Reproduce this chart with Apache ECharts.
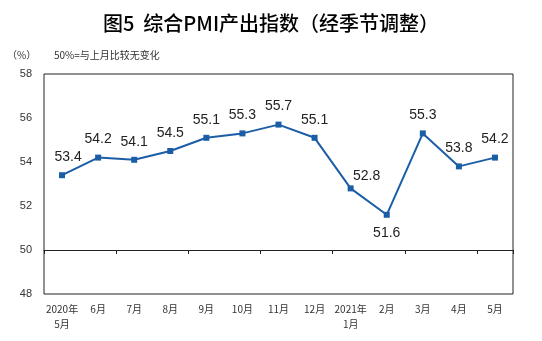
<!DOCTYPE html>
<html>
<head>
<meta charset="utf-8">
<script src="https://cdn.jsdelivr.net/npm/echarts@6/dist/echarts.min.js"></script>
<style>
  html, body { margin: 0; padding: 0; background: #fff; }
  #chart { width: 542px; height: 341px; }
</style>
</head>
<body>
<div id="chart"></div>
<script>
// 综合PMI产出指数（经季节调整），2020年5月—2021年5月
const months = ['2020年\n5月', '6月', '7月', '8月', '9月', '10月', '11月', '12月', '2021年\n1月', '2月', '3月', '4月', '5月'];
const pmiValues = [53.4, 54.2, 54.1, 54.5, 55.1, 55.3, 55.7, 55.1, 52.8, 51.6, 55.3, 53.8, 54.2];
const yTicks = [48, 50, 52, 54, 56, 58];

const lineColor = '#1c5ea6';
const labelFont = 'Liberation Sans, Arial, sans-serif';
const cjkFont = 'Noto Sans CJK SC, sans-serif';

// per-point label placement tweaks
const labelTweaks = {
  0: { position: 'top', offset: [6, 0] },
  8: { position: 'top', offset: [16, 6] },
  9: { position: 'bottom', offset: [0, 0] }
};

const seriesData = pmiValues.map((v, i) => {
  const item = { value: v };
  if (labelTweaks[i]) item.label = labelTweaks[i];
  return item;
});

const chart = echarts.init(document.getElementById('chart'), null, { renderer: 'canvas' });
chart.setOption({
  animation: false,
  backgroundColor: '#fff',
  title: [
    {
      text: '图5  综合PMI产出指数（经季节调整）',
      left: 'center',
      top: 8,
      textStyle: { fontFamily: cjkFont, fontSize: 20, fontWeight: 500, color: '#000' }
    },
    {
      text: '（%）',
      left: 2,
      top: 45,
      textStyle: { fontFamily: cjkFont, fontSize: 10, fontWeight: 'normal', color: '#333' }
    },
    {
      text: '50%=与上月比较无变化',
      left: 49,
      top: 45,
      textStyle: { fontFamily: cjkFont, fontSize: 10, fontWeight: 'normal', color: '#333' }
    }
  ],
  grid: {
    left: 44, right: 29, top: 74, bottom: 47,
    show: true, borderColor: '#222', borderWidth: 1, backgroundColor: 'transparent'
  },
  xAxis: [
    {
      type: 'category',
      data: months,
      boundaryGap: true,
      axisLine: { show: false },
      axisTick: { show: false },
      axisLabel: {
        interval: 0, margin: 8, color: '#333', fontSize: 10, fontFamily: cjkFont, lineHeight: 15
      }
    },
    {
      // 50 reference line with ticks
      type: 'category',
      data: months,
      boundaryGap: true,
      position: 'bottom',
      offset: -44,
      axisLine: { show: true, lineStyle: { color: '#222', width: 1 } },
      axisTick: { show: true, length: 4, lineStyle: { color: '#222' } },
      axisLabel: { show: false }
    }
  ],
  yAxis: {
    type: 'value',
    min: yTicks[0],
    max: yTicks[yTicks.length - 1],
    interval: 2,
    axisLine: { show: false },
    axisTick: { show: false },
    splitLine: { show: false },
    axisLabel: { margin: 12, color: '#333', fontSize: 11, fontFamily: labelFont }
  },
  series: [{
    type: 'line',
    data: seriesData,
    xAxisIndex: 0,
    symbol: 'rect',
    symbolSize: 6,
    lineStyle: { color: lineColor, width: 2 },
    itemStyle: { color: lineColor },
    label: {
      show: true,
      position: 'top',
      distance: 8,
      color: '#222',
      fontSize: 14,
      fontFamily: labelFont,
      formatter: p => p.value.toFixed(1)
    }
  }]
});
</script>
</body>
</html>
